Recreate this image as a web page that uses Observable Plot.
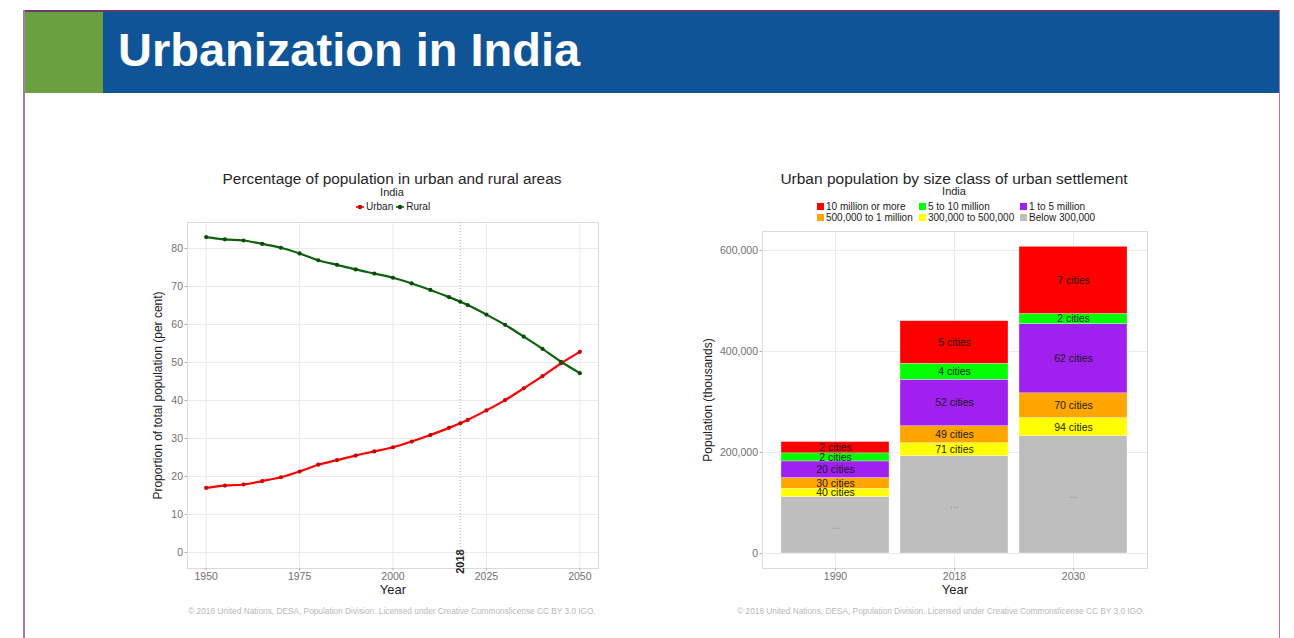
<!DOCTYPE html>
<html>
<head>
<meta charset="utf-8">
<script src="https://cdn.jsdelivr.net/npm/d3@7"></script>
<script src="https://cdn.jsdelivr.net/npm/@observablehq/plot@0.6"></script>
<style>
  html, body { margin: 0; padding: 0; background: #fff; }
  body { width: 1294px; height: 638px; position: relative; overflow: hidden; font-family: "Liberation Sans", Arial, sans-serif; }
  .abs { position: absolute; }
  .ttl { color: #262626; white-space: nowrap; transform: translateX(-50%); }
  .note { color: #b8b8b8; font-size: 8.3px; white-space: nowrap; transform: translateX(-50%); }
  .leg { font-size: 10px; color: #1a1a1a; white-space: nowrap; display: flex; align-items: center; }
  .sq { display: inline-block; width: 7px; height: 7px; margin-right: 2px; }
  svg { overflow: visible; }
</style>
</head>
<body>
<div class="abs" style="left:23px;top:10px;width:1257px;height:1.5px;background:#6e3a6e;"></div>
<div class="abs" style="left:23px;top:10px;width:1.5px;height:628px;background:#a67cae;"></div>
<div class="abs" style="left:1278.5px;top:10px;width:1.5px;height:628px;background:#a67cae;"></div>
<div class="abs" style="left:24.5px;top:11.5px;width:78px;height:81px;background:#6aa040;"></div>
<div class="abs" style="left:102.5px;top:11.5px;width:1176px;height:81px;background:#0f5496;"></div>
<div class="abs" style="left:118px;top:20px;font-size:47px;font-weight:bold;color:#fff;line-height:60px;white-space:nowrap;">Urbanization in India</div>

<div class="abs ttl" style="left:392px;top:170px;font-size:15.4px;">Percentage of population in urban and rural areas</div>
<div class="abs ttl" style="left:392px;top:186px;font-size:11px;">India</div>
<div class="abs" id="leftLegend" style="left:355px;top:201px;"></div>
<div class="abs" id="left" style="left:140px;top:215px;"></div>
<div class="abs note" style="left:392px;top:606px;">© 2018 United Nations, DESA, Population Division. Licensed under Creative Commonslicense CC BY 3.0 IGO.</div>

<div class="abs ttl" style="left:954px;top:170px;font-size:15.5px;">Urban population by size class of urban settlement</div>
<div class="abs ttl" style="left:954px;top:185px;font-size:11px;">India</div>
<div class="abs" id="rightLegend" style="left:817px;top:201px;"></div>
<div class="abs" id="right" style="left:690px;top:215px;"></div>
<div class="abs note" style="left:941px;top:606px;">© 2018 United Nations, DESA, Population Division. Licensed under Creative Commonslicense CC BY 3.0 IGO.</div>

<script>
// ---------- Left chart data ----------
const years = [1950, 1955, 1960, 1965, 1970, 1975, 1980, 1985, 1990, 1995, 2000, 2005, 2010, 2015, 2018, 2020, 2025, 2030, 2035, 2040, 2045, 2050];
const urbanPct = [17.0, 17.6, 17.9, 18.8, 19.8, 21.3, 23.1, 24.3, 25.5, 26.6, 27.7, 29.2, 30.9, 32.8, 34.0, 34.9, 37.4, 40.1, 43.2, 46.4, 49.8, 52.8];
const ruralPct = [83.0, 82.4, 82.1, 81.2, 80.2, 78.7, 76.9, 75.7, 74.5, 73.4, 72.3, 70.8, 69.1, 67.2, 66.0, 65.1, 62.6, 59.9, 56.8, 53.6, 50.2, 47.2];
const seriesNames = ["Urban", "Rural"];
const seriesLine = ["#ff0000", "#0b640b"];
const seriesDot = ["#c40000", "#0a4a0a"];
const leftYTicks = [0, 10, 20, 30, 40, 50, 60, 70, 80];
const leftXTicks = [1950, 1975, 2000, 2025, 2050];
const markYear = 2018;

// ---------- Right chart data ----------
const barYears = ["1990", "2018", "2030"];
const sizeClasses = ["Below 300,000", "300,000 to 500,000", "500,000 to 1 million", "1 to 5 million", "5 to 10 million", "10 million or more"];
const classColors = ["#bebebe", "#ffff00", "#ffa500", "#a020f0", "#00ff00", "#ff0000"];
// thousands, per class (bottom to top), per year
const pop1990 = [111800, 16500, 21000, 33000, 16000, 22400];
const pop2018 = [192800, 25600, 33600, 92000, 31600, 84400];
const pop2030 = [232200, 36000, 49000, 137000, 20000, 133000];
const labels1990 = ["...", "40 cities", "30 cities", "20 cities", "2 cities", "2 cities"];
const labels2018 = ["...", "71 cities", "49 cities", "52 cities", "4 cities", "5 cities"];
const labels2030 = ["...", "94 cities", "70 cities", "62 cities", "2 cities", "7 cities"];
const rightYTicks = [0, 200000, 400000, 600000];
const legendOrder = ["10 million or more", "5 to 10 million", "1 to 5 million", "500,000 to 1 million", "300,000 to 500,000", "Below 300,000"];

// ---------- Build left chart ----------
const lineData = [];
years.forEach((yr, i) => {
  lineData.push({year: yr, value: urbanPct[i], series: "Urban"});
});
years.forEach((yr, i) => {
  lineData.push({year: yr, value: ruralPct[i], series: "Rural"});
});

const left = Plot.plot({
  width: 470, height: 390,
  marginLeft: 47, marginRight: 12, marginTop: 7, marginBottom: 37,
  style: {fontFamily: "'Liberation Sans', Arial, sans-serif", fontSize: "10.5px", background: "transparent"},
  x: {domain: [1945, 2055]},
  y: {domain: [-4.21, 86.84]},
  color: {domain: seriesNames, range: seriesLine},
  marks: [
    Plot.gridY(leftYTicks, {stroke: "#ebebeb", strokeOpacity: 1, strokeWidth: 1}),
    Plot.gridX(leftXTicks, {stroke: "#ebebeb", strokeOpacity: 1, strokeWidth: 1}),
    Plot.frame({stroke: "#dadada"}),
    Plot.ruleX([markYear], {stroke: "#b0b0b0", strokeDasharray: "1,2", strokeWidth: 1}),
    Plot.line(lineData, {x: "year", y: "value", z: "series", stroke: "series", strokeWidth: 2.2, curve: "monotone-x"}),
    Plot.dot(lineData, {x: "year", y: "value", fill: d => seriesDot[seriesNames.indexOf(d.series)], r: 2.1, stroke: "none"}),
    Plot.text([markYear], {x: d => d, y: -5.6, text: d => String(d), rotate: -90, textAnchor: "start", fontSize: 11, fontWeight: "bold", fill: "#222"}),
    Plot.axisY(leftYTicks, {tickSize: 2.5, tickPadding: 2, stroke: "#b0b0b0", fill: "#707070", label: null, fontSize: 10.5}),
    Plot.axisX(leftXTicks, {tickSize: 2.5, tickPadding: 2, stroke: "#b0b0b0", fill: "#707070", label: null, tickFormat: d => String(d), fontSize: 10.5}),
    Plot.text(["Proportion of total population (per cent)"], {frameAnchor: "left", textAnchor: "middle", dx: -29, rotate: -90, fontSize: 12, fill: "#222"}),
    Plot.text(["Year"], {frameAnchor: "bottom", textAnchor: "middle", dy: 25, fontSize: 13, fill: "#222"})
  ]
});
document.getElementById("left").appendChild(left);

// left legend
const ll = document.getElementById("leftLegend");
ll.className = "abs leg";
seriesNames.forEach((s, i) => {
  const span = document.createElement("span");
  span.style.display = "inline-flex";
  span.style.alignItems = "center";
  span.style.marginRight = "2px";
  span.innerHTML = `<svg width="10" height="8"><line x1="1" x2="9" y1="4" y2="4" stroke="${seriesLine[i]}" stroke-width="1.6"/><circle cx="5" cy="4" r="2.3" fill="${seriesDot[i]}"/></svg><span style="font-size:10px;margin-left:1px">${s}</span>`;
  ll.appendChild(span);
});

// ---------- Build right chart ----------
const popByYear = [pop1990, pop2018, pop2030];
const labByYear = [labels1990, labels2018, labels2030];
const barData = [];
barYears.forEach((yr, yi) => {
  sizeClasses.forEach((c, ci) => {
    barData.push({year: yr, cls: c, value: popByYear[yi][ci], label: labByYear[yi][ci]});
  });
});

const right = Plot.plot({
  width: 470, height: 390,
  marginLeft: 72, marginRight: 13, marginTop: 16, marginBottom: 37,
  style: {fontFamily: "'Liberation Sans', Arial, sans-serif", fontSize: "10.5px", background: "transparent"},
  x: {domain: barYears, paddingInner: 0.09, paddingOuter: 0.15},
  y: {domain: [-29700, 637600]},
  color: {domain: sizeClasses, range: classColors},
  marks: [
    Plot.gridY(rightYTicks, {stroke: "#ebebeb", strokeOpacity: 1}),
    Plot.gridX(barYears, {stroke: "#ebebeb", strokeOpacity: 1}),
    Plot.frame({stroke: "#dadada"}),
    Plot.barY(barData, {x: "year", y: "value", fill: "cls", z: "cls", order: sizeClasses, stroke: "#ffffff", strokeWidth: 0.5, strokeOpacity: 0.6}),
    Plot.text(barData, Plot.stackY({x: "year", y: "value", z: "cls", order: sizeClasses, text: "label", fontSize: 10.5, fill: d => d.label === "..." ? "#8a8a8a" : "#1a1a1a"})),
    Plot.axisY(rightYTicks, {tickSize: 2.5, tickPadding: 2, stroke: "#b0b0b0", fill: "#707070", label: null, tickFormat: d3.format(","), fontSize: 10.5}),
    Plot.axisX(barYears, {tickSize: 2.5, tickPadding: 2, stroke: "#b0b0b0", fill: "#707070", label: null, fontSize: 10.5}),
    Plot.text(["Population (thousands)"], {frameAnchor: "left", textAnchor: "middle", dx: -54, rotate: -90, fontSize: 12, fill: "#222"}),
    Plot.text(["Year"], {frameAnchor: "bottom", textAnchor: "middle", dy: 25, fontSize: 13, fill: "#222"})
  ]
});
document.getElementById("right").appendChild(right);

// right legend (2 rows x 3 cols)
const rl = document.getElementById("rightLegend");
const colX = [0, 102, 203];
legendOrder.forEach((c, i) => {
  const row = Math.floor(i / 3), col = i % 3;
  const d = document.createElement("div");
  d.className = "abs leg";
  d.style.left = colX[col] + "px";
  d.style.top = (row * 11) + "px";
  d.style.fontSize = "10px";
  d.innerHTML = `<span class="sq" style="background:${classColors[sizeClasses.indexOf(c)]}"></span>${c}`;
  rl.appendChild(d);
});
</script>
</body>
</html>
